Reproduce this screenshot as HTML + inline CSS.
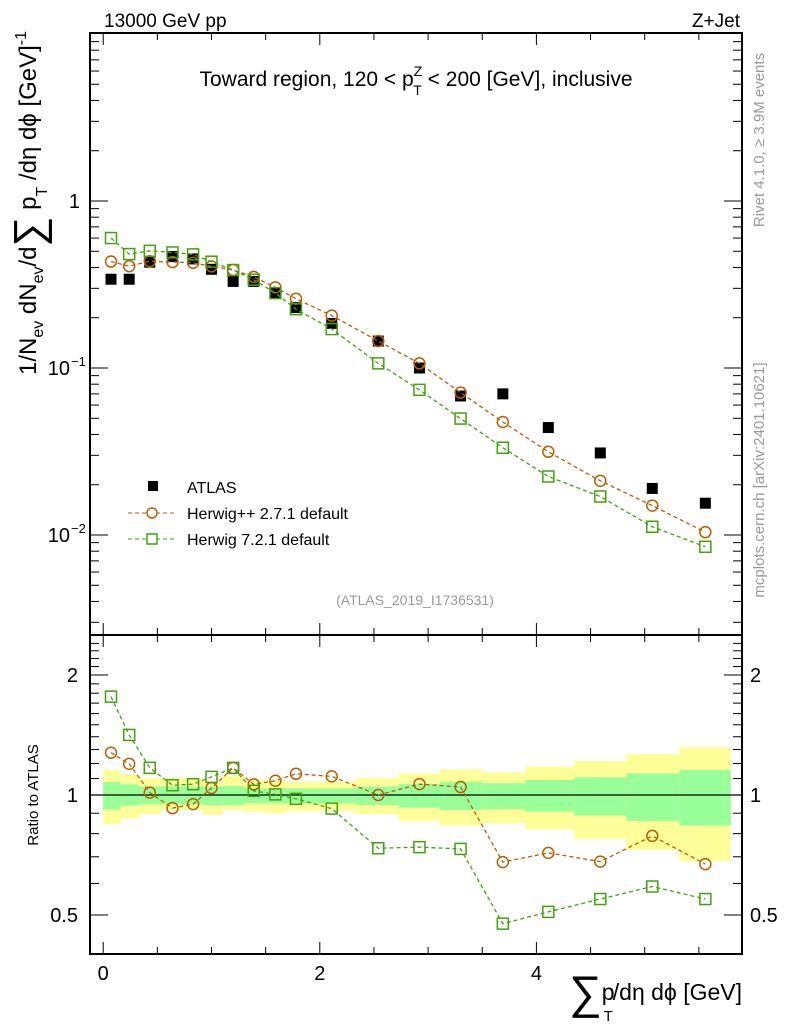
<!DOCTYPE html>
<html><head><meta charset="utf-8"><style>
body{margin:0;background:#fff;}
svg{display:block;font-family:"Liberation Sans",sans-serif;}
</style></head><body>
<svg id="c" width="786" height="1024" viewBox="0 0 786 1024">
<text x="104" y="27" font-size="19">13000 GeV pp</text>
<text x="740" y="27" font-size="19" text-anchor="end">Z+Jet</text>
<text x="416" y="86" font-size="21" text-anchor="middle">Toward region, 120 &lt; p<tspan font-size="14" dy="-10">Z</tspan><tspan font-size="14" dx="-9" dy="19">T</tspan><tspan dy="-9"> &lt; 200 [GeV], inclusive</tspan></text>
<text transform="translate(764,140) rotate(-90)" font-size="15" fill="#999" text-anchor="middle">Rivet 4.1.0, ≥ 3.9M events</text>
<text transform="translate(764,480) rotate(-90)" font-size="15" fill="#999" text-anchor="middle">mcplots.cern.ch [arXiv:2401.10621]</text>
<text x="415" y="605" font-size="14" fill="#999" text-anchor="middle">(ATLAS_2019_I1736531)</text>
<text transform="translate(36,203) rotate(-90)" font-size="24" text-anchor="middle">1/N<tspan font-size="16" dy="7">ev</tspan><tspan dy="-7"> dN</tspan><tspan font-size="16" dy="7">ev</tspan><tspan dy="-7">/d</tspan><tspan font-size="42" dy="7">∑</tspan><tspan dy="-7"> p</tspan><tspan font-size="16" dy="11">T</tspan><tspan dy="-11"> /dη dϕ  [GeV]</tspan><tspan font-size="16" dy="-10">-1</tspan></text>
<text transform="translate(38,795) rotate(-90)" font-size="15" text-anchor="middle">Ratio to ATLAS</text>
<text x="742" y="1000" font-size="23" text-anchor="end"><tspan font-size="46" dy="8">∑</tspan><tspan dy="-8">p</tspan><tspan font-size="15" dx="-11" dy="21">T</tspan><tspan dy="-21">/dη dϕ [GeV]</tspan></text>
<g id="legend">
<rect x="148" y="481" width="10" height="10" fill="#000"/>
<text x="187" y="493" font-size="16">ATLAS</text>
<line x1="128" y1="513" x2="175" y2="513" stroke="#b45f06" stroke-dasharray="4,3"/>
<circle cx="152" cy="513" r="5" fill="#fff" stroke="#b45f06" stroke-width="1.5"/>
<text x="187" y="519" font-size="16">Herwig++ 2.7.1 default</text>
<line x1="128" y1="539" x2="175" y2="539" stroke="#44a010" stroke-dasharray="4,3"/>
<rect x="147" y="534" width="10" height="10" fill="#fff" stroke="#44a010" stroke-width="1.5"/>
<text x="187" y="545" font-size="16">Herwig 7.2.1 default</text>
</g>
</svg>
<script>
const xVals=[0.072,0.24,0.43,0.64,0.83,1.0,1.2,1.39,1.59,1.78,2.11,2.54,2.92,3.30,3.69,4.11,4.59,5.07,5.56];
const binEdges=[0,0.16,0.33,0.53,0.73,0.92,1.1,1.3,1.49,1.68,1.9,2.33,2.73,3.11,3.5,3.9,4.35,4.83,5.32,5.79];
const atlas=[0.34,0.34,0.43,0.465,0.45,0.39,0.33,0.33,0.28,0.23,0.185,0.145,0.10,0.068,0.070,0.044,0.031,0.019,0.0155];
const herwigpp=[0.434,0.407,0.436,0.431,0.427,0.406,0.386,0.351,0.304,0.26,0.206,0.145,0.1065,0.0712,0.0475,0.0315,0.0211,0.0150,0.0104];
const herwig7=[0.600,0.481,0.503,0.492,0.479,0.433,0.386,0.338,0.281,0.225,0.171,0.1066,0.074,0.0498,0.0333,0.0224,0.0170,0.0112,0.0085];
const yellowUp=[1.155,1.127,1.101,1.101,1.101,1.080,1.116,1.09,1.09,1.08,1.08,1.101,1.133,1.160,1.140,1.178,1.217,1.265,1.317];
const greenUp=[1.078,1.063,1.049,1.049,1.049,1.049,1.053,1.039,1.039,1.039,1.039,1.049,1.065,1.08,1.07,1.09,1.107,1.133,1.155];
const greenDn=[0.919,0.940,0.947,0.947,0.947,0.944,0.942,0.953,0.953,0.953,0.953,0.944,0.929,0.917,0.922,0.908,0.888,0.861,0.838];
const yellowDn=[0.846,0.872,0.896,0.917,0.917,0.891,0.917,0.908,0.899,0.912,0.912,0.896,0.861,0.838,0.849,0.820,0.776,0.728,0.683];
const xTicks=[0,2,4];
const mainTicks=[[1,"1"],[0.1,"10"],[0.01,"10"]];
const ratioTicks=[0.5,1,2];

const NS="http://www.w3.org/2000/svg";
const svg=document.getElementById('c');
const L=90,R=742,T=33,M=635,B=954;
const X=v=>103.2+v*108.3;
const YM=v=>201-Math.log10(v)*167;
const YR=v=>795-Math.log10(v)*398.7;
function el(t,a,p){const e=document.createElementNS(NS,t);for(const k in a)e.setAttribute(k,a[k]);(p||svg).appendChild(e);return e;}

const bands=el('g',{});


for(let i=0;i<binEdges.length-1;i++){
  const x0=X(binEdges[i]),x1=X(binEdges[i+1]);
  const y=el('rect',{x:x0,y:YR(yellowUp[i]),width:x1-x0+0.5,height:YR(yellowDn[i])-YR(yellowUp[i]),fill:'#ffff99'},bands);
  
  
  const g=el('rect',{x:x0,y:YR(greenUp[i]),width:x1-x0+0.5,height:YR(greenDn[i])-YR(greenUp[i]),fill:'#99ff99'},bands);
  
  
}
const one=el('line',{x1:L,x2:R,y1:YR(1),y2:YR(1),stroke:'#000','stroke-width':1.3});



const f1=el('rect',{x:L,y:T,width:R-L,height:M-T,fill:'none',stroke:'#000','stroke-width':2});


const f2=el('rect',{x:L,y:M,width:R-L,height:B-M,fill:'none',stroke:'#000','stroke-width':2});



const xt=el('g',{stroke:'#000','stroke-width':1});


for(let v=0;v<=5.8;v+=0.5){
  const big=Math.abs(v%2)<1e-6;const l=big?12:7;
  el('line',{x1:X(v),x2:X(v),y1:B,y2:B-l},xt);
  el('line',{x1:X(v),x2:X(v),y1:M,y2:M-l},xt);
  el('line',{x1:X(v),x2:X(v),y1:M,y2:M+l},xt);
  el('line',{x1:X(v),x2:X(v),y1:T,y2:T+l},xt);
}
xTicks.forEach(v=>{const t=el('text',{x:X(v),y:980,'font-size':20,'text-anchor':'middle'});t.textContent=v;

});

const yt=el('g',{stroke:'#000','stroke-width':1});


for(let d=-3;d<=0;d++)for(let m=1;m<=9;m++){
  const v=m*Math.pow(10,d);const y=YM(v);if(y<T||y>M)continue;
  const l=m==1?18:9;
  el('line',{x1:L,x2:L+l,y1:y,y2:y},yt);el('line',{x1:R,x2:R-l,y1:y,y2:y},yt);
}
mainTicks.forEach((t,i)=>{const y=YM(t[0]);
  const tx=el('text',{x:i==0?80:70,y:y+7,'font-size':20,'text-anchor':'end'});tx.textContent=t[1];
  
  
  if(i>0){const s=el('text',{x:71,y:y-2,'font-size':13});s.textContent=i==1?'−1':'−2';
  
  }
});
for(let v=0.4;v<=2.5;v+=0.1){const y=YR(v);if(y<M||y>B)continue;
  const major=Math.abs(v-0.5)<1e-6||Math.abs(v-1)<1e-6||Math.abs(v-2)<1e-6;const l=major?18:9;
  el('line',{x1:L,x2:L+l,y1:y,y2:y},yt);el('line',{x1:R,x2:R-l,y1:y,y2:y},yt);}
ratioTicks.forEach(v=>{const y=YR(v);
  const a=el('text',{x:78,y:y+7,'font-size':20,'text-anchor':'end'});a.textContent=v;
  
  
  const b=el('text',{x:750,y:y+7,'font-size':20});b.textContent=v;
  
  });

function series(vals,color,shape,Yf,name){
  const g=el('g',{});
  
  
  el('polyline',{points:vals.map((v,i)=>X(xVals[i])+','+Yf(v)).join(' '),fill:'none',stroke:color,'stroke-width':1.3,'stroke-dasharray':'4,3'},g);
  vals.forEach((v,i)=>{const x=X(xVals[i]),y=Yf(v);let m;
    if(shape=='c')m=el('circle',{cx:x,cy:y,r:5.5,fill:'none',stroke:color,'stroke-width':1.5},g);
    else m=el('rect',{x:x-5.5,y:y-5.5,width:11,height:11,fill:'none',stroke:color,'stroke-width':1.5},g);
    
    });
}
const ag=el('g',{});


atlas.forEach((v,i)=>{const r=el('rect',{x:X(xVals[i])-5.5,y:YM(v)-5.5,width:11,height:11,fill:'#000'},ag);
  
  });
series(herwigpp,'#b45f06','c',YM,'herwigpp-main');
series(herwig7,'#44a010','s',YM,'herwig7-main');
series(herwigpp.map((v,i)=>v/atlas[i]),'#b45f06','c',YR,'herwigpp-ratio');
series(herwig7.map((v,i)=>v/atlas[i]),'#44a010','s',YR,'herwig7-ratio');
</script>
</body></html>
